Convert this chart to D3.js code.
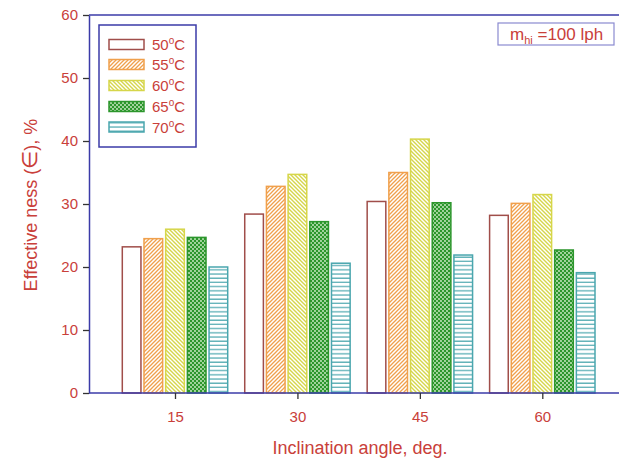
<!DOCTYPE html>
<html>
<head>
<meta charset="utf-8">
<script src="https://cdn.jsdelivr.net/npm/d3@7"></script>
<style>
  body { margin: 0; background: #fff; }
  svg { display: block; font-family: "Liberation Sans", Arial, sans-serif; }
</style>
</head>
<body>
<div id="chart"></div>
<script>
// inclination angles (x categories) and temperatures (series)
var angles = [15, 30, 45, 60];
var temps = ["50", "55", "60", "65", "70"];

// effectiveness values, one array per temperature
var eff50 = [23.2, 28.4, 30.4, 28.2];
var eff55 = [24.5, 32.8, 35.0, 30.1];
var eff60 = [26.0, 34.7, 40.3, 31.5];
var eff65 = [24.7, 27.2, 30.2, 22.7];
var eff70 = [20.0, 20.6, 21.9, 19.1];

var yTicks = [0, 10, 20, 30, 40, 50, 60];

var series = [eff50, eff55, eff60, eff65, eff70];

var width = 619, height = 460;
var axisCol = "#3b3ba8", textCol = "#c9403a";

var svg = d3.select("#chart").append("svg")
  .attr("width", width)
  .attr("height", height);

// patterns for each series
var defs = svg.append("defs");

var p55 = defs.append("pattern").attr("id", "p55")
  .attr("patternUnits", "userSpaceOnUse").attr("width", 4).attr("height", 4);
p55.append("rect").attr("width", 4).attr("height", 4).attr("fill", "#fff");
p55.append("path").attr("d", "M-1,1 l2,-2 M0,4 l4,-4 M3,5 l2,-2")
  .attr("stroke", "#f0a04c").attr("stroke-width", 1.3);

var p60 = defs.append("pattern").attr("id", "p60")
  .attr("patternUnits", "userSpaceOnUse").attr("width", 4).attr("height", 4);
p60.append("rect").attr("width", 4).attr("height", 4).attr("fill", "#fff");
p60.append("path").attr("d", "M-1,3 l2,2 M0,0 l4,4 M3,-1 l2,2")
  .attr("stroke", "#d6d64a").attr("stroke-width", 1.4);

var p65 = defs.append("pattern").attr("id", "p65")
  .attr("patternUnits", "userSpaceOnUse").attr("width", 4).attr("height", 4);
p65.append("rect").attr("width", 4).attr("height", 4).attr("fill", "#2c962c");
p65.append("circle").attr("cx", 1).attr("cy", 1).attr("r", 0.9).attr("fill", "#d8f0d0");
p65.append("circle").attr("cx", 3).attr("cy", 3).attr("r", 0.9).attr("fill", "#d8f0d0");

var p70 = defs.append("pattern").attr("id", "p70")
  .attr("patternUnits", "userSpaceOnUse").attr("width", 4).attr("height", 4.2);
p70.append("rect").attr("width", 4).attr("height", 4.2).attr("fill", "#fff");
p70.append("line").attr("x1", 0).attr("x2", 4).attr("y1", 1).attr("y2", 1)
  .attr("stroke", "#4aa6ae").attr("stroke-width", 1.2);

var fills = ["#fff", "url(#p55)", "url(#p60)", "url(#p65)", "url(#p70)"];
var strokes = ["#a04e4a", "#f0a04c", "#d6d64a", "#2c962c", "#4aa6ae"];

// scales
var plotLeft = 89, plotTop = 15, plotBottom = 393, plotRight = 630;
var x = d3.scaleLinear().domain([15, 60]).range([175, 542.3]);
var y = d3.scaleLinear().domain([0, 60]).range([plotBottom, plotTop]);
var inner = d3.scaleBand().domain(temps).range([-52.7, 52.7]).paddingInner(0.14);

// bars
temps.forEach(function(t, i) {
  svg.append("g").selectAll("rect")
    .data(series[i])
    .enter().append("rect")
    .attr("x", function(d, j) { return x(angles[j]) + inner(t); })
    .attr("y", function(d) { return y(d); })
    .attr("width", inner.bandwidth())
    .attr("height", function(d) { return plotBottom - y(d); })
    .attr("fill", fills[i])
    .attr("stroke", strokes[i])
    .attr("stroke-width", 1.5);
});

// frame: top border
svg.append("line")
  .attr("x1", plotLeft).attr("x2", plotRight).attr("y1", plotTop).attr("y2", plotTop)
  .attr("stroke", axisCol).attr("stroke-width", 1.5);

// y axis
var yAxis = svg.append("g")
  .attr("transform", "translate(" + plotLeft + ",0)")
  .call(d3.axisLeft(y).tickValues(yTicks).tickSize(6).tickPadding(5).tickSizeOuter(0));
yAxis.select(".domain").attr("stroke", axisCol).attr("stroke-width", 1.5);
yAxis.selectAll(".tick line").attr("stroke", "#333").attr("stroke-width", 1.3);
yAxis.selectAll(".tick text").attr("fill", textCol).attr("font-size", 15)
  .attr("font-family", "Liberation Sans, Arial, sans-serif");

// x axis
var xAxis = svg.append("g")
  .attr("transform", "translate(0," + plotBottom + ")")
  .call(d3.axisBottom(x).tickValues(angles).tickSize(6).tickPadding(12).tickSizeOuter(0));
xAxis.select(".domain").attr("d", "M" + plotLeft + ",0H" + plotRight)
  .attr("stroke", axisCol).attr("stroke-width", 1.5);
xAxis.selectAll(".tick line").attr("stroke", "#333").attr("stroke-width", 1.3);
xAxis.selectAll(".tick text").attr("fill", textCol).attr("font-size", 15)
  .attr("font-family", "Liberation Sans, Arial, sans-serif");

// axis titles
svg.append("text")
  .attr("x", 360).attr("y", 454)
  .attr("text-anchor", "middle")
  .attr("fill", textCol).attr("font-size", 18)
  .text("Inclination angle, deg.");

var yl = svg.append("text")
  .attr("transform", "translate(37,205) rotate(-90)")
  .attr("text-anchor", "middle")
  .attr("fill", textCol).attr("font-size", 18);
yl.append("tspan").text("Effective ness (");
yl.append("tspan").attr("font-size", 21).attr("font-weight", 300).text("\u2208");
yl.append("tspan").text("),   %");

// legend
var legend = svg.append("g");
legend.append("rect")
  .attr("x", 99).attr("y", 25).attr("width", 97).attr("height", 122)
  .attr("fill", "#fff").attr("stroke", axisCol).attr("stroke-width", 1.5);

var rowY = [44.5, 64.5, 85.5, 106.5, 127];
temps.forEach(function(t, i) {
  legend.append("rect")
    .attr("x", 109).attr("y", rowY[i] - 5).attr("width", 35).attr("height", 10)
    .attr("fill", fills[i]).attr("stroke", strokes[i]).attr("stroke-width", 1.5);
  var lt = legend.append("text")
    .attr("x", 152).attr("y", rowY[i] + 5.5)
    .attr("fill", textCol).attr("font-size", 15);
  lt.append("tspan").text(t);
  lt.append("tspan").attr("font-size", 10).attr("dy", -6).text("o");
  lt.append("tspan").attr("dy", 6).text("C");
});

// annotation box
svg.append("rect")
  .attr("x", 498).attr("y", 23).attr("width", 116).attr("height", 22)
  .attr("fill", "#fff").attr("stroke", "#8a8ad0").attr("stroke-width", 1.2);
var ann = svg.append("text")
  .attr("x", 510).attr("y", 39.5)
  .attr("fill", textCol).attr("font-size", 17);
ann.append("tspan").text("m");
ann.append("tspan").attr("font-size", 11).attr("dy", 4).text("hi");
ann.append("tspan").attr("dy", -4).text(" =100 lph");
</script>
</body>
</html>
